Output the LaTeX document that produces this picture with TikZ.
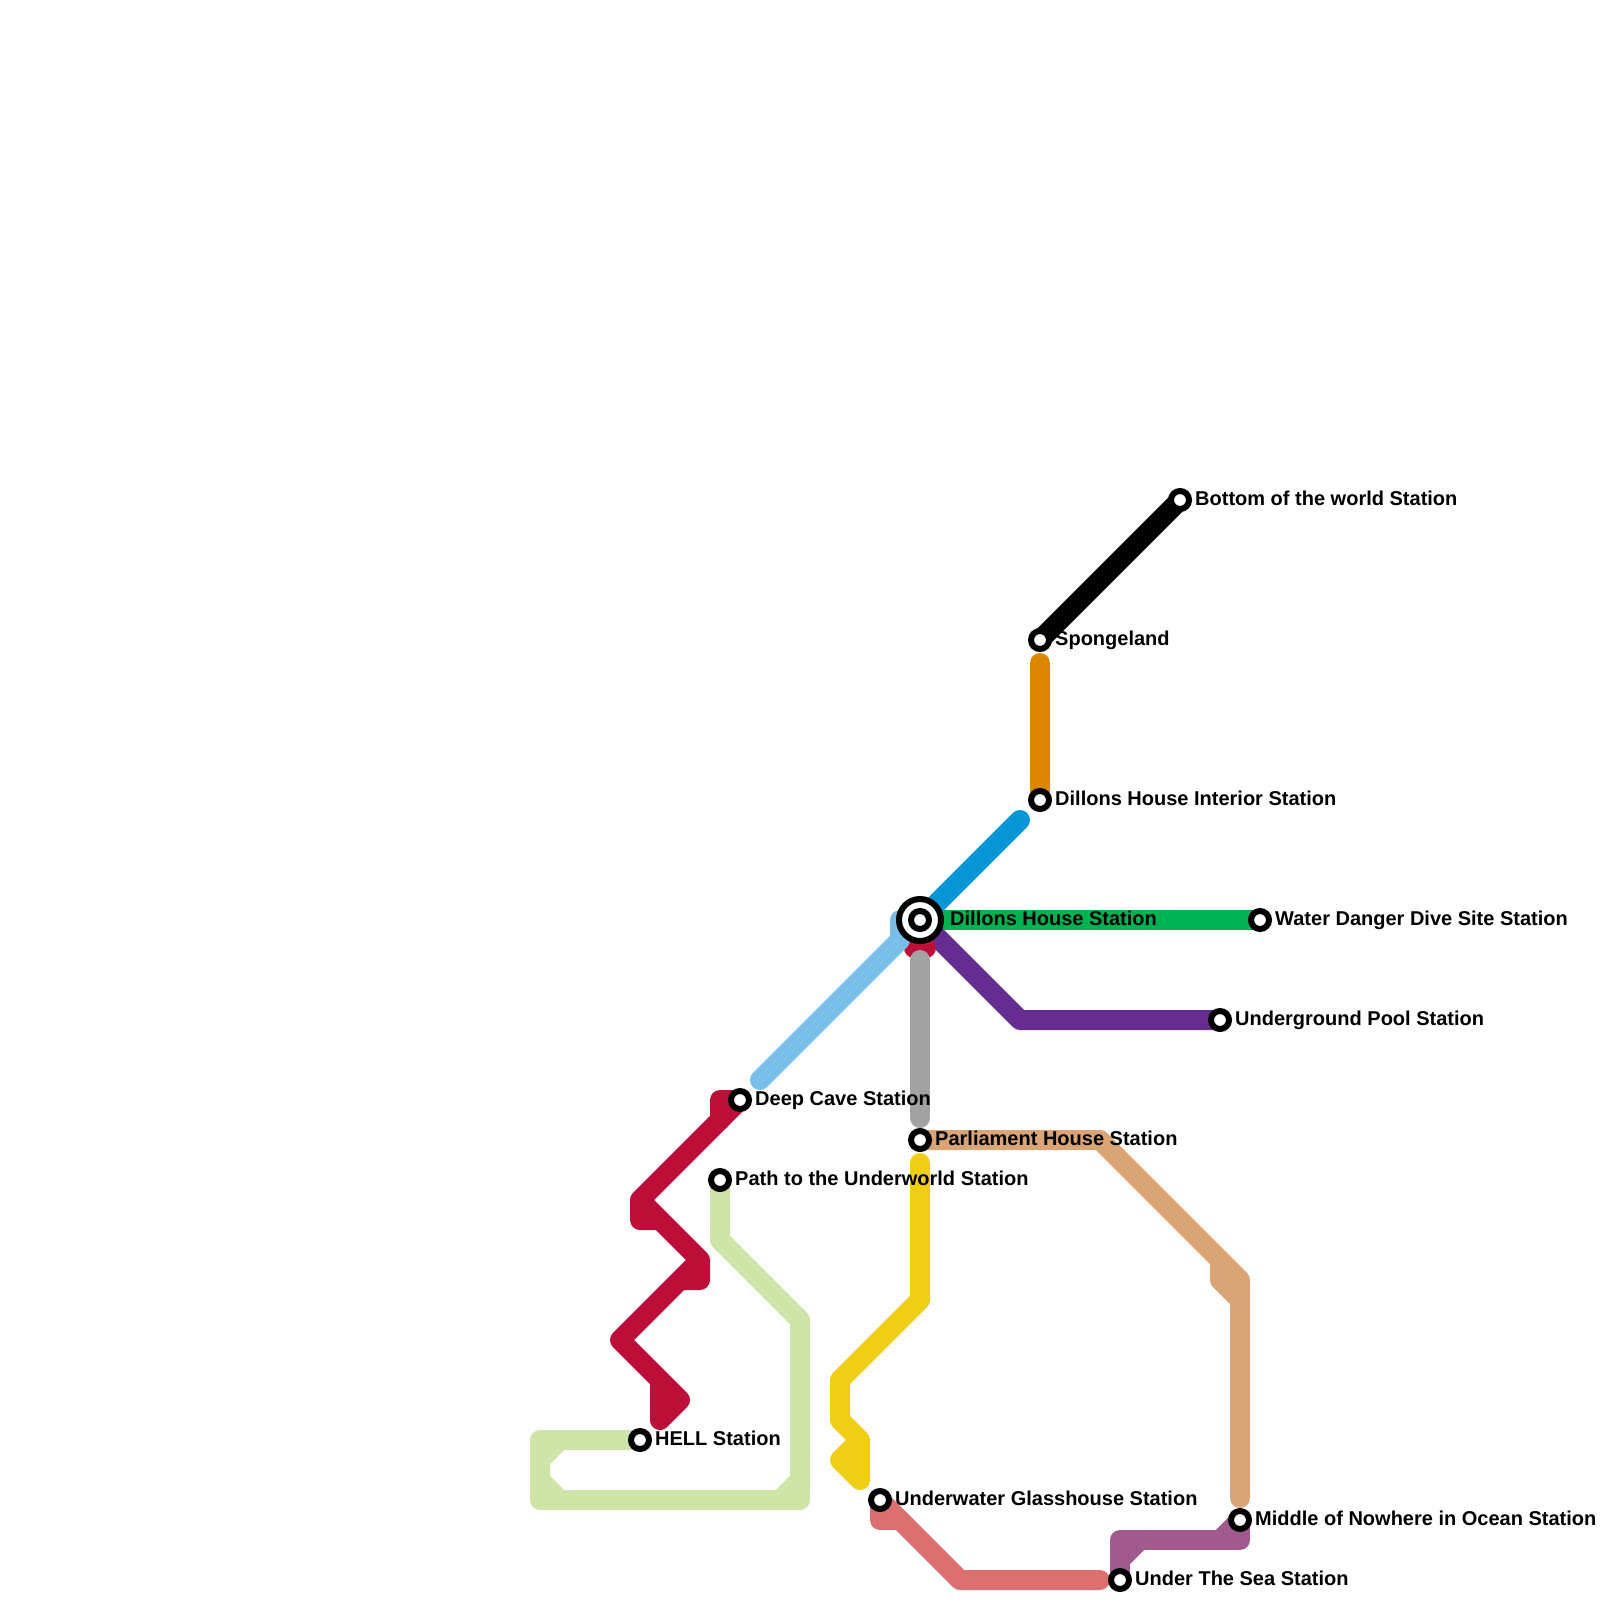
\documentclass[tikz,border=0pt]{standalone}
\usepackage{fontspec}
\setmainfont{Liberation Sans}
\definecolor{mred}{HTML}{BD1038}
\definecolor{morange}{HTML}{DF8600}
\definecolor{myellow}{HTML}{F0CE15}
\definecolor{mgreen}{HTML}{00B251}
\definecolor{mblue}{HTML}{0896D7}
\definecolor{mpurple}{HTML}{662C90}
\definecolor{mgray}{HTML}{A2A2A2}
\definecolor{mlblue}{HTML}{79BDE9}
\definecolor{mlgreen}{HTML}{CFE4A7}
\definecolor{mtan}{HTML}{D9A577}
\definecolor{mmauve}{HTML}{A15A8E}
\definecolor{mrose}{HTML}{DC7071}
\tikzset{
  metro/.style={line width=20pt,line cap=round,line join=round},
  stn/.style={circle,draw=black,fill=white,line width=6pt,minimum size=18pt,inner sep=0pt},
  ic/.style={circle,draw=black,fill=white,line width=6pt,minimum size=42pt,inner sep=0pt},
  lbl/.style={anchor=base west,inner sep=0pt,font=\fontsize{20}{24}\bfseries\selectfont}
}
\begin{document}
\begin{tikzpicture}[x=1pt,y=-1pt]
\useasboundingbox (0,0) rectangle (1600,1600);
% station anchors
\coordinate (Cdh) at (920,920);
\coordinate (Cdc) at (740,1100);
\coordinate (Cpu) at (720,1180);
\coordinate (Chl) at (640,1440);
\coordinate (Cug) at (880,1500);
\coordinate (Cus) at (1120,1580);
\coordinate (Cmn) at (1240,1520);
\coordinate (Cph) at (920,1140);
\coordinate (Cup) at (1220,1020);
\coordinate (Cwd) at (1260,920);
\coordinate (Cdi) at (1040,800);
\coordinate (Csp) at (1040,640);
\coordinate (Cbw) at (1180,500);
% free ends
\coordinate (Eor) at (1040,663);
\coordinate (Eor2) at (1040,790);
\coordinate (Ebl1) at (1020,820);
\coordinate (Egr1) at (920,960);
\coordinate (Egr2) at (920,1118);
\coordinate (Elb) at (760,1080);
\coordinate (Eye) at (920,1163);
\coordinate (Eta) at (1240,1498);
\coordinate (Ero) at (1100,1580);
% lines
\draw[metro,black] (Csp) -- (Cbw);
\draw[metro,morange] (Eor) -- (Eor2);
\draw[metro,mgreen] (Cdh) -- (Cwd);
\draw[metro,mblue] (Ebl1) -- (Cdh);
\draw[metro,mpurple] (Cdh) -- (1020,1020) -- (Cup);
\draw[metro,mred] (914,948) -- (920,942) -- (926,948);
\draw[metro,mlblue] (Elb) -- (900,940) -- (900,920) -- (Cdh);
\draw[metro,mgray] (Egr1) -- (Egr2);
\draw[metro,mred] (Cdc) -- (720,1100) -- (720,1120) -- (Cdc);
\draw[metro,mred] (720,1120) -- (640,1200) -- (640,1220) -- (660,1220) -- (640,1200) -- (700,1260) -- (700,1280) -- (680,1280) -- (700,1260) -- (620,1340) -- (680,1400) -- (660,1420) -- (660,1380);
\draw[metro,mlgreen] (Cpu) -- (720,1240) -- (800,1320) -- (800,1500) -- (540,1500) -- (540,1440) -- (Chl);
\draw[metro,mlgreen] (540,1460) -- (560,1440);
\draw[metro,mlgreen] (540,1480) -- (560,1500);
\draw[metro,mlgreen] (780,1500) -- (800,1480);
\draw[metro,myellow] (Eye) -- (920,1300) -- (840,1380) -- (840,1420) -- (860,1440) -- (860,1480) -- (840,1460) -- (860,1440);
\draw[metro,mrose] (Cug) -- (880,1520) -- (900,1520);
\draw[metro,mrose] (Cug) -- (960,1580) -- (Ero);
\draw[metro,mmauve] (Cus) -- (1120,1540) -- (1240,1540) -- (Cmn);
\draw[metro,mmauve] (1120,1560) -- (1140,1540);
\draw[metro,mmauve] (1220,1540) -- (Cmn);
\draw[metro,mtan] (Cph) -- (1100,1140) -- (1240,1280) -- (Eta);
\draw[metro,mtan] (1220,1260) -- (1220,1280) -- (1240,1300);
% stations
\node[ic] (dh0) at (Cdh) {};
\node[stn] (dh) at (Cdh) {};
\node[stn] (dc) at (Cdc) {};
\node[stn] (pu) at (Cpu) {};
\node[stn] (hl) at (Chl) {};
\node[stn] (ug) at (Cug) {};
\node[stn] (us) at (Cus) {};
\node[stn] (mn) at (Cmn) {};
\node[stn] (ph) at (Cph) {};
\node[stn] (up) at (Cup) {};
\node[stn] (wd) at (Cwd) {};
\node[stn] (di) at (Cdi) {};
\node[stn] (sp) at (Csp) {};
\node[stn] (bw) at (Cbw) {};
% labels
\node[lbl] (tdh) at (950,925) {Dillons House Station};
\node[lbl] (tdc) at (755,1105) {Deep Cave Station};
\node[lbl] (tpu) at (735,1185) {Path to the Underworld Station};
\node[lbl] (thl) at (655,1445) {HELL Station};
\node[lbl] (tug) at (895,1505) {Underwater Glasshouse Station};
\node[lbl] (tus) at (1135,1585) {Under The Sea Station};
\node[lbl] (tmn) at (1255,1525) {Middle of Nowhere in Ocean Station};
\node[lbl] (tph) at (935,1145) {Parliament House Station};
\node[lbl] (tup) at (1235,1025) {Underground Pool Station};
\node[lbl] (twd) at (1275,925) {Water Danger Dive Site Station};
\node[lbl] (tdi) at (1055,805) {Dillons House Interior Station};
\node[lbl] (tsp) at (1055,645) {Spongeland};
\node[lbl] (tbw) at (1195,505) {Bottom of the world Station};
\end{tikzpicture}
\end{document}
